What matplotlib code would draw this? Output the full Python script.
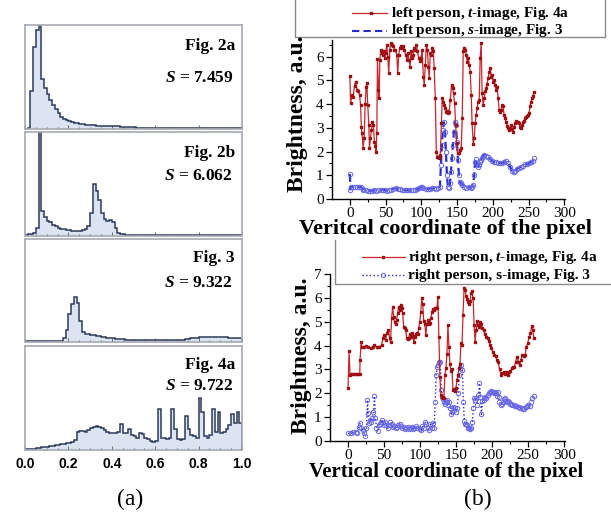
import numpy as np
import matplotlib
matplotlib.use("Agg")
import matplotlib.pyplot as plt
from matplotlib.lines import Line2D

plt.rcParams["mathtext.fontset"] = "custom"
plt.rcParams["mathtext.it"] = "Liberation Serif:italic:bold"
plt.rcParams["mathtext.rm"] = "Liberation Serif:bold"

W, H = 611, 513
SERIF = "Liberation Serif"

# ---- (a) histograms, 80 bins on [0, 1], heights in % of panel height ----
hist_names = ["Fig. 2a", "Fig. 2b", "Fig. 3", "Fig. 4a"]
hist_S = ["7.459", "6.062", "9.322", "9.722"]

h_2a = [0, 0.5, 37, 79, 95, 110, 48, 39, 34, 28,
        23, 19, 15, 12, 10, 8.5, 7.5, 6.5, 6, 5.5,
        5, 4.5, 4, 3.8, 3.6, 3.4, 3.3, 3.2, 3.1, 3,
        3, 2.9, 2.8, 2.7, 2.6, 2.4, 2.2, 2, 1.8, 1.6,
        1.5, 1.4, 1.3, 1.2, 1.1, 1, 1, 0.9, 0.9, 0.9,
        0.8, 0.8, 0.8, 0.8, 0.8, 0.8, 0.8, 0.8, 0.8, 0.8,
        0.7, 0.7, 0.7, 0.7, 0.7, 0.7, 0.7, 0.7, 0.7, 0.7,
        0.6, 0.6, 0.6, 0.6, 0.6, 0.6, 0.6, 0.6, 0.6, 0.6]
h_2b = [1, 1.5, 2, 3, 8, 100, 24, 18, 14, 13,
        11, 10, 8, 7, 6.5, 6, 5.5, 5, 4.5, 4.5,
        5, 5.5, 6.5, 10, 22, 50, 43, 35, 22, 16,
        14, 15, 13, 8, 3, 2, 1.5, 1.2, 1, 1,
        0.9, 0.9, 0.9, 0.9, 0.9, 0.8, 0.8, 0.8, 0.8, 0.8,
        0.8, 0.8, 0.8, 0.7, 0.7, 0.7, 0.7, 0.7, 0.7, 0.7,
        0.7, 0.7, 0.6, 0.6, 0.6, 0.6, 0.6, 0.6, 0.6, 0.6,
        0.6, 0.6, 0.6, 0.6, 0.6, 0.6, 0.6, 0.6, 0.6, 0.6]
h_3 = [0.5, 0.5, 0.5, 0.5, 0.5, 0.5, 0.5, 0.5, 0.5, 0.5,
       0.5, 0.5, 0.5, 0.8, 4, 12, 27, 37, 44, 38,
       20, 10, 8, 7.5, 7, 6.5, 6, 5.5, 5, 4.5,
       4, 3.8, 3.5, 3.2, 3, 2.8, 2.5, 2.2, 2, 1.8,
       1.7, 1.6, 1.6, 1.5, 1.5, 1.5, 1.5, 1.5, 1.5, 1.5,
       1.5, 1.5, 1.5, 1.5, 1.5, 1.6, 1.7, 2, 2.2, 2.5,
       3, 3.5, 4, 4, 4.5, 4.5, 5, 5, 5, 5,
       5, 5, 5, 5, 4.5, 4, 3.5, 3.5, 3.5, 3.5]
h_4a = [0.5, 0.8, 1, 1.2, 1.5, 2, 2.5, 3, 3, 3.5,
        4, 4.5, 5, 5.5, 6, 6.5, 7, 8, 10, 17,
        18, 18, 17, 19, 21, 22, 23, 22, 21, 19,
        17, 16, 16, 16, 17, 25, 16, 16, 20, 14,
        13, 12, 16, 15, 12, 11, 9, 8, 9, 39,
        12, 12, 11, 12, 39, 20, 11, 10, 11, 33,
        20, 14, 13, 12, 50, 37, 13, 12, 14, 39,
        17, 37, 16, 17, 20, 24, 35, 26, 37, 26]
hists = [h_2a, h_2b, h_3, h_4a]
hist_boxes = [(25, 25, 242, 129), (25, 132, 242, 236),
              (25, 239, 242, 342), (25, 346, 242, 450)]
hist_label_y = [(46, 78), (153, 176), (258, 283), (365, 386)]

# ---- (b) brightness profiles ----
left_t_x = [0, 1, 3, 4.6, 6.5, 8, 10, 11.6, 13.5, 15, 16, 17, 18.6, 20, 21.4, 22.8, 23.7,
            25, 26.5, 27.4, 28.8, 30.2, 31.6, 33, 34.4, 35.8, 36.7, 37.7, 38.6, 40, 41,
            41.9, 43.3, 44.7, 46, 47.4, 48.8, 50.2, 51.6, 53, 54.4, 55.8, 57.2, 59, 61,
            62.3, 63.7, 65.6, 67, 68.4, 69.8, 71.6, 73.5, 75, 76.3, 78, 80, 81.4, 82.8,
            84.2, 85.6, 87, 88.4, 90.2, 91.6, 93, 94.4, 96.3, 98, 99.5, 101, 102.8, 104,
            105.6, 107, 108.4, 109.8, 111, 112.6, 114, 115.3, 116.7, 118, 119.5, 121,
            122.3, 123.7, 125, 126.5, 128, 129.3, 130.7, 132, 133.5, 134.9, 136.3, 137.7,
            139, 140.5, 142.3, 143.7, 145, 146.5, 148, 149.3, 150.7, 152.6, 154.4, 155.8,
            157.2, 158.6, 160, 161.4, 162.8, 164.2, 165.6, 167, 168.4, 169.8, 171, 172.6,
            174, 175.3, 176.7, 178, 179.5, 181, 182.3, 183.7, 185, 186.5, 188, 189.3,
            190.7, 192, 193.5, 194.9, 196.3, 197.7, 199, 200.5, 202, 203.3, 204.6, 206,
            207.4, 208.8, 210, 211.6, 213, 214.4, 215.8, 217.2, 218.6, 220, 221.4, 222.8,
            224.2, 225.6, 227, 228.4, 229.8, 231.2, 232.6, 234, 235.3, 236.7, 238, 239.5,
            241, 242.3, 243.7, 245, 246.5, 248, 249.3, 250.7, 252, 253.5, 255, 256.3, 258]
left_t_y = [5.2, 4.04, 4.39, 4.3, 4.78, 4.95, 4.6, 4.56, 4.39, 3.97, 3.05, 2.77, 2.14, 2.56,
            4.0, 4.74, 4.88, 3.97, 3.12, 2.14, 2.56, 2.91, 3.23, 3.12, 2.42, 2.24, 1.97,
            2.77, 5.9, 4.6, 4.25, 5.86, 6.29, 6.15, 6.08, 6.24, 5.94, 6.15, 6.5, 6.0, 5.3,
            6.29, 6.57, 6.5, 6.43, 6.29, 6.29, 6.08, 5.3, 6.08, 6.36, 6.43, 6.36, 6.43,
            6.29, 6.08, 5.86, 6.15, 5.86, 5.58, 6.22, 5.94, 6.08, 6.36, 6.29, 6.5, 6.22,
            5.96, 5.82, 5.94, 6.29, 5.16, 4.81, 5.65, 6.5, 6.29, 5.58, 5.09, 6.15, 6.08,
            6.36, 6.22, 5.51, 4.25, 2.0, 1.79, 1.79, 1.72, 1.86, 3.19, 4.25, 4.1, 3.94,
            3.83, 3.68, 3.71, 3.61, 3.68, 4.18, 4.81, 4.67, 4.46, 4.04, 3.12, 2.35, 1.93,
            1.93, 2.07, 2.14, 3.4, 6.22, 6.36, 6.29, 6.08, 5.79, 5.94, 5.65, 5.37, 4.39,
            3.19, 2.31, 2.56, 3.19, 3.54, 3.83, 4.1, 4.18, 5.94, 6.57, 4.46, 3.97, 4.25,
            4.53, 4.67, 4.84, 5.09, 5.34, 5.51, 5.16, 5.23, 4.95, 5.02, 4.81, 4.6, 4.74,
            4.25, 3.76, 3.66, 3.76, 3.94, 3.9, 3.54, 3.4, 3.23, 3.09, 2.98, 2.91, 2.98,
            3.12, 2.94, 2.81, 3.05, 3.19, 3.29, 3.26, 3.26, 3.19, 3.05, 3.01, 3.12, 3.23,
            3.29, 3.4, 3.47, 3.51, 3.54, 3.61, 3.9, 4.1, 4.25, 4.36, 4.5]

left_s_x = [0, 0.7, 1.5, 4, 7, 10, 13, 16, 17.7, 19, 22, 25, 28, 31, 34, 37, 40, 43, 46,
            49, 52, 55, 58, 61, 64, 67, 70, 73, 76, 79, 82, 85, 88, 91, 94, 97, 100, 101,
            103, 106, 109, 112, 115, 118, 121, 124, 126, 127.4, 128.8, 130.2, 131.6, 133,
            134.4, 135.8, 137.2, 138.6, 140, 141.4, 142.8, 144.2, 145.6, 147, 148.4,
            149.8, 151.2, 152.6, 154, 155.3, 157.2, 160, 163, 166, 169, 171, 172.6, 174,
            175.3, 176.7, 178, 179.5, 181, 182.3, 183.7, 185, 186.5, 188, 190.7, 193.5,
            196.3, 199, 202, 204.6, 207.4, 210, 213, 215.8, 218.6, 221.4, 224.2, 227,
            229.3, 231.6, 234, 236.3, 239, 241.9, 244.7, 247.4, 250.2, 253, 255.8, 258]
left_s_y = [1.05, 0.4, 0.5, 0.52, 0.52, 0.52, 0.5, 0.5, 0.42, 0.36, 0.36, 0.35, 0.35, 0.35,
            0.36, 0.34, 0.37, 0.37, 0.4, 0.37, 0.35, 0.37, 0.4, 0.44, 0.45, 0.43, 0.41,
            0.4, 0.37, 0.36, 0.37, 0.38, 0.38, 0.39, 0.41, 0.45, 0.49, 0.49, 0.46, 0.43,
            0.42, 0.44, 0.45, 0.45, 0.44, 0.45, 0.52, 1.43, 2.28, 2.91, 3.23, 2.84, 2.0,
            1.01, 0.52, 0.45, 0.66, 1.15, 1.72, 2.28, 2.84, 3.23, 3.12, 2.42, 1.65, 1.01,
            0.73, 0.66, 0.59, 0.52, 0.45, 0.5, 0.48, 0.52, 0.59, 1.01, 1.58, 1.69, 1.5,
            1.36, 1.43, 1.58, 1.65, 1.72, 1.83, 1.86, 1.83, 1.79, 1.69, 1.6, 1.55, 1.58,
            1.5, 1.53, 1.5, 1.55, 1.6, 1.5, 1.36, 1.18, 1.13, 1.18, 1.27, 1.32, 1.36,
            1.41, 1.46, 1.46, 1.5, 1.55, 1.6, 1.72]

right_t_x = [0, 1.4, 2.8, 4.6, 7, 9.5, 12, 14.5, 16.3, 16.7, 18.1, 19.5, 22, 25, 28, 31.6,
             34, 36.3, 40, 43, 46.5, 48.4, 50.2, 52, 54, 55.8, 57.7, 59, 60.5, 61.9, 63.3,
             64.7, 66, 67.4, 68.8, 70.2, 71.6, 73, 74.4, 75.8, 77.2, 78.6, 80, 81.4, 82.8,
             84.2, 85.6, 87, 88.4, 89.8, 91.2, 92.6, 94, 95.3, 96.7, 98, 99.5, 101, 102.3,
             103.7, 105, 106.5, 108, 109.3, 110.7, 112, 113.5, 114.9, 116.3, 117.7, 119,
             120.5, 121.9, 123.3, 124.7, 126, 127.4, 128.8, 130.2, 131.6, 133, 134.4,
             135.8, 137.2, 138.6, 140, 141.4, 142.8, 144.2, 145.6, 147, 148.4, 149.8,
             151.2, 152.6, 154, 155.3, 156.7, 158.1, 159.5, 161, 162.3, 163.7, 165, 166.5,
             168, 169.3, 170.7, 172, 173.5, 174.9, 176.3, 177.7, 179, 180.5, 181.9, 183.3,
             184.7, 186, 188, 189.8, 191.6, 193.5, 195.3, 197.2, 199, 201, 202.8, 204.6,
             206.5, 208.4, 210.2, 212, 214, 215.8, 217.7, 219.5, 221.4, 223.3, 225, 227,
             228.8, 230.7, 232.6, 234.4, 236.3, 238, 240, 241.9, 243.7, 245.6, 247.4,
             249.3, 251.2, 253, 254.9, 256.3, 258]
right_t_y = [2.23, 3.77, 2.77, 2.79, 2.79, 2.79, 2.79, 2.79, 2.79, 3.39, 4.13, 3.95, 3.95,
             3.97, 3.93, 3.88, 3.95, 4.02, 3.95, 3.95, 4.02, 4.3, 4.44, 4.23, 4.51, 4.65,
             4.33, 4.16, 5.14, 5.63, 5.21, 4.97, 4.89, 5.07, 5.35, 5.63, 5.49, 5.7, 5.59,
             5.35, 4.79, 4.75, 4.65, 4.3, 4.27, 4.33, 4.47, 4.37, 4.51, 4.41, 4.16, 4.37,
             4.47, 4.51, 4.47, 4.72, 5.0, 5.42, 5.98, 5.73, 5.03, 4.89, 4.44, 4.89, 5.07,
             4.89, 4.93, 5.14, 5.42, 5.53, 5.49, 5.59, 5.59, 5.56, 6.05, 4.37, 2.7, 1.93,
             1.86, 1.82, 1.79, 2.77, 3.04, 3.63, 4.86, 3.95, 3.21, 2.93, 3.02, 2.14, 2.18,
             2.09, 2.23, 2.56, 2.77, 3.07, 3.21, 4.09, 4.02, 5.28, 6.42, 6.33, 6.09, 5.95,
             5.81, 5.73, 5.87, 6.19, 6.28, 5.98, 4.86, 4.16, 4.65, 5.03, 4.86, 4.79, 4.97,
             4.89, 4.72, 4.65, 4.47, 4.37, 4.3, 4.19, 4.02, 3.88, 3.72, 3.6, 3.58, 3.39,
             3.3, 3.02, 2.77, 2.84, 2.88, 2.79, 2.91, 2.77, 2.88, 2.93, 3.04, 3.11, 3.11,
             3.32, 3.53, 3.32, 3.18, 3.39, 3.6, 3.58, 3.6, 3.95, 4.09, 4.37, 4.51, 4.83,
             4.65, 4.3]

right_s_x = [0, 3.7, 7.4, 10.7, 13, 15, 16.7, 18.6, 20.5, 22.3, 24.2, 25.6, 27, 27.9, 29.3,
             30.7, 32, 33.5, 35.3, 36.7, 38.1, 39.5, 41, 42.3, 43.7, 45.6, 47.4, 49.3,
             51.2, 53, 54.9, 56.7, 58.6, 60.5, 62.3, 64.2, 66, 67.9, 69.8, 71.6, 73.5,
             75.3, 77.2, 79, 81, 82.8, 84.7, 86.5, 88.4, 90.2, 92, 94, 95.8, 97.7, 99.5,
             101.4, 103.3, 105, 107, 108.8, 110.7, 112.6, 114.4, 116.3, 118, 119.5, 121,
             122.3, 123.7, 125, 126.5, 128, 129.3, 130.7, 132, 133.5, 134.9, 136.3, 137.7,
             139, 140.5, 141.9, 143.3, 144.7, 146, 147.4, 148.8, 150.2, 151.6, 153, 154.4,
             155.8, 157.2, 158.6, 160, 161.4, 162.8, 164.2, 165.6, 167, 168.4, 169.8, 171,
             172.6, 174, 175.3, 176.7, 178, 179.5, 181, 182.3, 183.7, 185, 186.5, 188,
             189.3, 190.7, 192, 193.5, 194.9, 196.3, 197.7, 199, 200.5, 202, 203.3, 204.6,
             206, 207.4, 208.8, 210, 211.6, 213, 214.4, 215.8, 217.2, 218.6, 220, 221.4,
             222.8, 224.2, 226, 228, 229.8, 231.6, 233.5, 235.3, 237.2, 239, 241, 242.8,
             244.7, 246.5, 248.4, 250.2, 252, 254, 255.8, 257.7]
right_s_y = [0.32, 0.32, 0.36, 0.39, 0.35, 0.6, 0.74, 0.53, 0.46, 0.32, 0.22, 0.53, 1.72,
             1.16, 0.74, 0.88, 0.81, 0.95, 1.23, 1.89, 0.95, 0.53, 0.42, 0.67, 0.7, 0.78,
             0.88, 0.67, 0.81, 0.67, 0.53, 0.67, 0.78, 0.7, 0.59, 0.64, 0.53, 0.6, 0.67,
             0.73, 0.61, 0.56, 0.59, 0.5, 0.53, 0.59, 0.5, 0.53, 0.59, 0.5, 0.56, 0.61,
             0.53, 0.56, 0.5, 0.45, 0.61, 0.56, 0.78, 0.7, 0.53, 0.46, 0.7, 0.56, 0.74,
             0.53, 1.65, 2.77, 3.11, 3.18, 3.3, 3.32, 2.14, 1.86, 1.76, 1.65, 1.54, 1.65,
             1.72, 1.51, 1.65, 1.37, 1.12, 1.23, 1.44, 1.3, 1.4, 1.23, 1.37, 2.0, 2.77,
             3.04, 3.18, 2.97, 1.65, 0.84, 0.7, 0.73, 0.67, 0.56, 0.53, 0.5, 0.56, 0.81,
             1.4, 1.79, 1.72, 1.82, 1.51, 1.93, 2.42, 1.86, 1.12, 1.68, 1.72, 1.79, 1.86,
             1.79, 1.93, 2.0, 2.07, 2.09, 2.04, 2.04, 2.0, 2.07, 2.01, 1.9, 2.07, 1.86,
             1.65, 1.51, 1.54, 1.65, 1.76, 1.79, 1.68, 1.65, 1.68, 1.62, 1.56, 1.54, 1.51,
             1.51, 1.48, 1.45, 1.44, 1.44, 1.4, 1.37, 1.34, 1.34, 1.42, 1.45, 1.51, 1.48,
             1.65, 1.79, 1.9]

RED = "#c8262a"
RED_M = "#9c0f12"
BLUE = "#2a2ad2"
BLUE_M = "#6868e6"
FILL = "#dbe4f0"
EDGE = "#2c3a5a"
FRAME = "#a6aab2"


def rect(x0, y0, x1, y1):
    return [x0 / W, 1 - y1 / H, (x1 - x0) / W, (y1 - y0) / H]


def fx(x):
    return x / W


def fy(y):
    return 1 - y / H


fig = plt.figure(figsize=(W / 100, H / 100), dpi=100)

# ---------- panel (a) ----------
edges = np.linspace(0, 1, len(h_2a) + 1)
for i, vals in enumerate(hists):
    ax = fig.add_axes(rect(*hist_boxes[i]))
    ax.stairs(vals, edges, fill=True, color=FILL)
    ax.stairs(vals, edges, color=EDGE, lw=1.1)
    ax.set_xlim(0, 1)
    ax.set_ylim(0, 100)
    ax.set_yticks([])
    for s in ax.spines.values():
        s.set_color(FRAME)
        s.set_linewidth(1.2)
    ax.set_xticks(np.arange(0, 1.01, 0.2))
    ax.set_xticks(np.arange(0, 1.01, 0.05), minor=True)
    ax.tick_params(axis="x", which="both", direction="in", color="#555", width=0.6)
    ax.tick_params(axis="x", which="major", length=3)
    ax.tick_params(axis="x", which="minor", length=1.5)
    if i == len(hists) - 1:
        ax.set_xticklabels(["0.0", "0.2", "0.4", "0.6", "0.8", "1.0"],
                           family="Liberation Sans", weight="bold", fontsize=10)
        ax.tick_params(axis="x", pad=5)
    else:
        ax.set_xticklabels([])
    ny, sy = hist_label_y[i]
    fig.text(fx(235), fy(ny), hist_names[i], ha="right", va="center",
             family=SERIF, weight="bold", fontsize=12.5)
    fig.text(fx(233), fy(sy), "$S$ = " + hist_S[i], ha="right", va="center",
             family=SERIF, weight="bold", fontsize=12.5)

fig.text(fx(130), fy(499), "(a)", ha="center", va="center", family=SERIF, fontsize=17)
fig.text(fx(478), fy(499), "(b)", ha="center", va="center", family=SERIF, fontsize=17)


# ---------- panel (b) ----------
def style_axes(ax, ymax):
    ax.set_xlim(-25, 301)
    ax.set_ylim(0, ymax)
    for s in ["top", "right"]:
        ax.spines[s].set_visible(False)
    for s in ["left", "bottom"]:
        ax.spines[s].set_linewidth(1.0)
    ax.set_xticks(np.arange(0, 301, 50))
    ax.set_xticks(np.arange(0, 301, 25), minor=True)
    ax.set_yticks(np.arange(0, int(ymax) + 1, 1))
    ax.set_yticks(np.arange(0, ymax, 0.5), minor=True)
    ax.tick_params(which="major", length=4, width=0.9, direction="out", labelsize=11)
    ax.tick_params(which="minor", length=2, width=0.8, direction="out")
    for lab in ax.get_xticklabels() + ax.get_yticklabels():
        lab.set_family(SERIF)
    ax.tick_params(axis="x", pad=1.5)
    ax.tick_params(axis="y", pad=2)


ax1 = fig.add_axes(rect(332, 40, 565, 199))
ax1.plot(left_t_x, left_t_y, "-", color=RED, lw=0.9, marker="s", ms=1.8,
         mfc=RED_M, mec=RED_M, zorder=3)
ax1.plot(left_s_x, left_s_y, "--", color=BLUE, lw=1.6, dashes=(3.5, 2), marker="o",
         ms=3.2, mfc="none", mec=BLUE_M, mew=0.7, zorder=2)
style_axes(ax1, 6.7)

ax2 = fig.add_axes(rect(330, 274, 565, 441))
ax2.plot(right_t_x, right_t_y, "-", color=RED, lw=0.9, marker="s", ms=1.8,
         mfc=RED_M, mec=RED_M, zorder=3)
ax2.plot(right_s_x, right_s_y, ":", color=BLUE, lw=1.0, marker="o",
         ms=3.2, mfc="none", mec=BLUE_M, mew=0.7, zorder=2)
style_axes(ax2, 7)

fig.text(fx(297), fy(114), "Brightness, a.u.", rotation=90, ha="center", va="center",
         family=SERIF, weight="bold", fontsize=17)
fig.text(fx(302), fy(356), "Brightness, a.u.", rotation=90, ha="center", va="center",
         family=SERIF, weight="bold", fontsize=17)
fig.text(fx(445), fy(229), "Veritcal coordinate of the pixel", ha="center", va="center",
         family=SERIF, weight="bold", fontsize=16)
fig.text(fx(446), fy(472), "Vertical coordinate of the pixel", ha="center", va="center",
         family=SERIF, weight="bold", fontsize=15)

# legend frames (only partly visible in the original)
frame_kw = dict(color="#8a8a8a", lw=1.0, transform=fig.transFigure)
fig.add_artist(Line2D([fx(295), fx(295), fx(605), fx(605)],
                      [fy(0), fy(37), fy(37), fy(0)], **frame_kw))
fig.add_artist(Line2D([fx(335), fx(335), fx(611)],
                      [fy(240), fy(284), fy(284)], **frame_kw))


def leg_line(x0, x1, y, **kw):
    fig.add_artist(Line2D([fx(x0), fx(x1)], [fy(y), fy(y)], transform=fig.transFigure, **kw))


def leg_mark(x, y, **kw):
    fig.add_artist(Line2D([fx(x)], [fy(y)], transform=fig.transFigure, ls="none", **kw))


def leg_text(x, y, s):
    fig.text(fx(x), fy(y), s, ha="left", va="center", family=SERIF, weight="bold",
             fontsize=11)


leg_line(352, 387, 13, color=RED, lw=0.9)
leg_mark(371, 13, marker="s", ms=2, color=RED_M)
leg_text(391, 13, "left person, $t$-image, Fig. 4a")
leg_line(352, 387, 31, color=BLUE, lw=1.5, ls="--", dashes=(3.5, 2))
leg_text(391, 31, "left person, $s$-image, Fig. 3")

leg_line(362, 405, 257, color=RED, lw=0.9)
leg_mark(383, 257, marker="s", ms=2, color=RED_M)
leg_text(408, 257, "right person, $t$-image, Fig. 4a")
leg_line(362, 405, 275, color=BLUE, lw=1.0, ls=":")
leg_mark(383, 275, marker="o", ms=3.2, mfc="none", mec=BLUE_M, mew=0.7)
leg_text(408, 275, "right person, s-image, Fig. 3")

fig.savefig("out.png", dpi=100)
